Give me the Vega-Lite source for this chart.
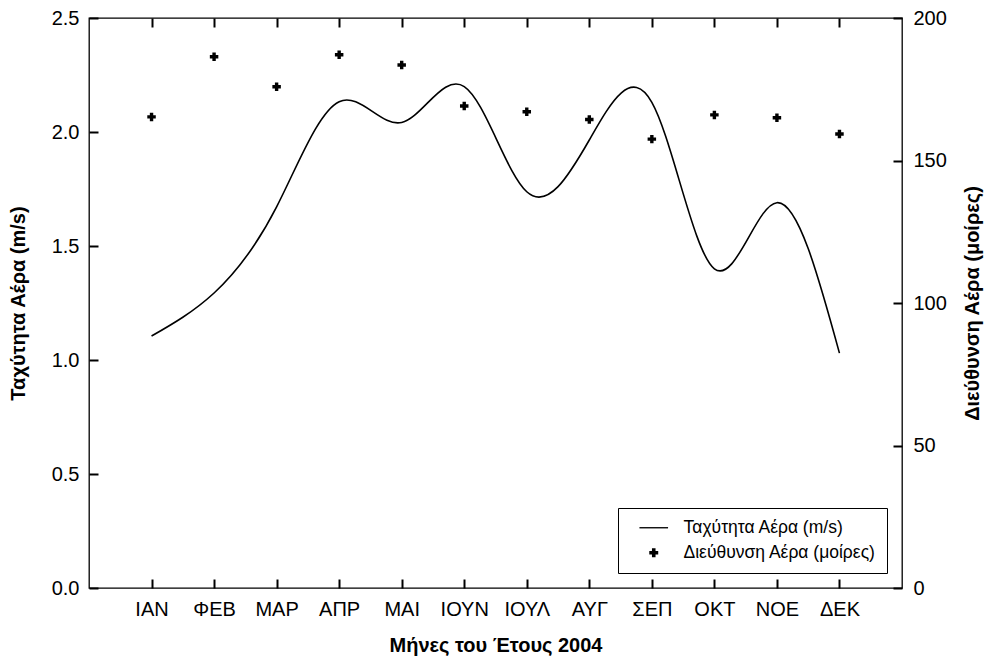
{
  "$schema": "https://vega.github.io/schema/vega-lite/v6.json",
  "width": 813,
  "height": 570,
  "autosize": {"type": "none"},
  "padding": {"left": 89, "top": 18, "right": 91, "bottom": 79},
  "background": "white",
  "config": {
    "font": "Liberation Sans",
    "view": {"stroke": "black", "strokeWidth": 1.3},
    "axis": {
      "grid": false,
      "domain": false,
      "offset": -9,
      "ticks": true,
      "tickSize": 9,
      "tickColor": "black",
      "tickWidth": 2,
      "labelFont": "Liberation Sans",
      "labelFontSize": 20,
      "labelColor": "black",
      "titleFont": "Liberation Sans",
      "titleFontSize": 20,
      "titleFontWeight": "bold",
      "titleColor": "black"
    }
  },
  "data": {
    "values": [
      {"m": "ΙΑΝ", "speed": 1.105, "dir": 165.3},
      {"m": "ΦΕΒ", "speed": 1.294, "dir": 186.4},
      {"m": "ΜΑΡ", "speed": 1.672, "dir": 175.9},
      {"m": "ΑΠΡ", "speed": 2.133, "dir": 187.1},
      {"m": "ΜΑΙ", "speed": 2.042, "dir": 183.5},
      {"m": "ΙΟΥΝ", "speed": 2.199, "dir": 169.1},
      {"m": "ΙΟΥΛ", "speed": 1.738, "dir": 167.1},
      {"m": "ΑΥΓ", "speed": 1.965, "dir": 164.4},
      {"m": "ΣΕΠ", "speed": 2.13, "dir": 157.5},
      {"m": "ΟΚΤ", "speed": 1.4, "dir": 166.0},
      {"m": "ΝΟΕ", "speed": 1.69, "dir": 165.0},
      {"m": "ΔΕΚ", "speed": 1.03, "dir": 159.3}
    ]
  },
  "layer": [
    {
      "mark": {"type": "line", "interpolate": "natural", "color": "black", "strokeWidth": 1.6},
      "encoding": {
        "x": {
          "field": "m",
          "type": "nominal",
          "scale": {"type": "point", "padding": 1, "domain": ["ΙΑΝ", "ΦΕΒ", "ΜΑΡ", "ΑΠΡ", "ΜΑΙ", "ΙΟΥΝ", "ΙΟΥΛ", "ΑΥΓ", "ΣΕΠ", "ΟΚΤ", "ΝΟΕ", "ΔΕΚ"]},
          "axis": {"orient": "bottom", "title": "Μήνες του Έτους 2004", "labelAngle": 0, "labelPadding": 11, "titlePadding": 16}
        },
        "y": {
          "field": "speed",
          "type": "quantitative",
          "scale": {"domain": [0, 2.5], "nice": false},
          "axis": {"orient": "left", "title": "Ταχύτητα Αέρα (m/s)", "values": [0, 0.5, 1, 1.5, 2, 2.5], "format": ".1f", "labelPadding": 10, "titlePadding": 23}
        }
      }
    },
    {
      "mark": {"type": "point", "filled": true, "fill": "black", "size": 72, "opacity": 1},
      "encoding": {
        "x": {
          "field": "m",
          "type": "nominal",
          "scale": {"type": "point", "padding": 1, "domain": ["ΙΑΝ", "ΦΕΒ", "ΜΑΡ", "ΑΠΡ", "ΜΑΙ", "ΙΟΥΝ", "ΙΟΥΛ", "ΑΥΓ", "ΣΕΠ", "ΟΚΤ", "ΝΟΕ", "ΔΕΚ"]},
          "axis": {"orient": "top", "labels": false, "title": null}
        },
        "y": {
          "field": "dir",
          "type": "quantitative",
          "scale": {"domain": [0, 200], "nice": false},
          "axis": {"orient": "right", "title": "Διεύθυνση Αέρα (μοίρες)", "titleAngle": 270, "values": [0, 50, 100, 150, 200], "labelPadding": 11, "titlePadding": 36}
        },
        "shape": {
          "datum": "Διεύθυνση Αέρα (μοίρες)",
          "scale": {"domain": ["Ταχύτητα Αέρα (m/s)", "Διεύθυνση Αέρα (μοίρες)"], "range": ["M-3.2,-0.15L3.2,-0.15L3.2,0.15L-3.2,0.15Z", "cross"]},
          "legend": {
            "title": null,
            "orient": "none",
            "legendX": 529,
            "legendY": 490,
            "padding": 11,
            "strokeColor": "black",
            "fillColor": "white",
            "symbolSize": 80,
            "symbolOffset": 16,
            "symbolFillColor": "black",
            "labelFont": "Liberation Sans",
            "labelFontSize": 17.5,
            "labelColor": "black",
            "labelOffset": 21,
            "rowPadding": 6,
            "labelLimit": 400
          }
        }
      }
    }
  ],
  "resolve": {
    "scale": {"y": "independent"},
    "axis": {"x": "independent", "y": "independent"}
  }
}
